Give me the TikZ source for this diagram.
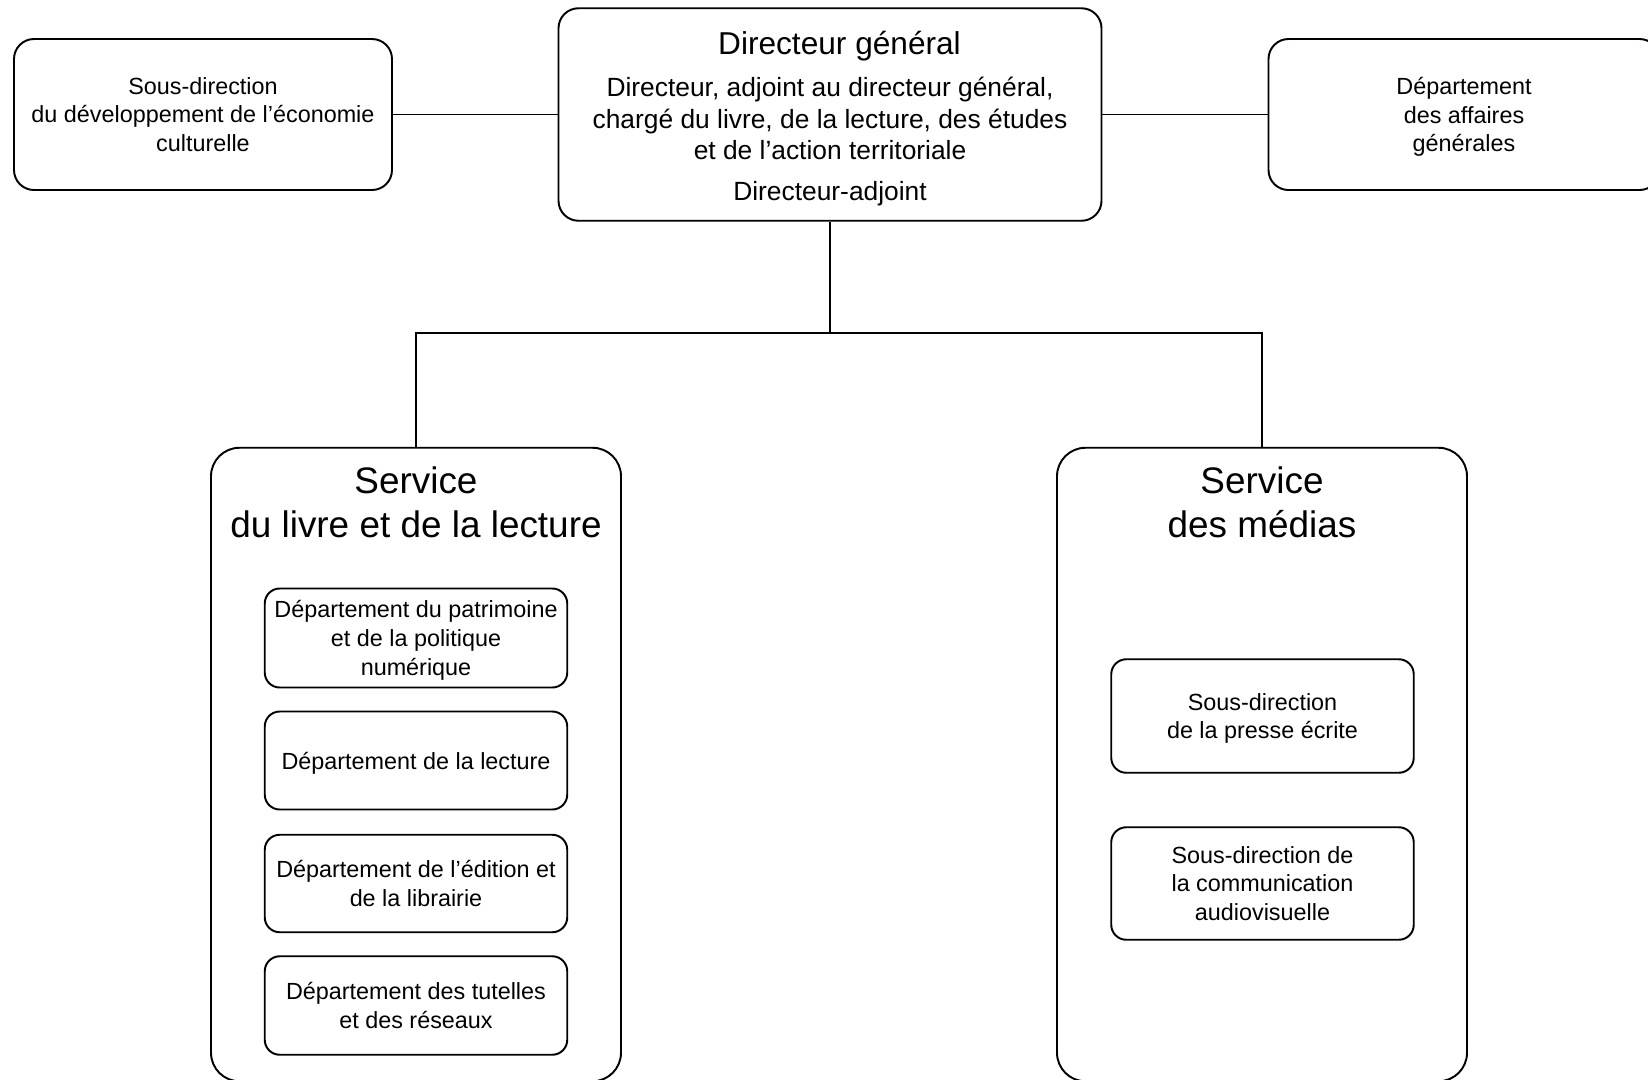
\documentclass[tikz,border=0pt]{standalone}
\usepackage{fontspec}
\setmainfont{Liberation Sans}

\newcommand{\boxfont}{\fontsize{13.3}{16.4}\selectfont}
\newcommand{\midfont}{\fontsize{15}{18.1}\selectfont}
\newcommand{\dgfont}{\fontsize{18}{21}\selectfont}
\newcommand{\servfont}{\fontsize{21}{25}\selectfont}

\tikzset{
	unit/.style={draw, line width=1.1pt, rounded corners=0.4cm, align=center, inner sep=0pt, text depth=0pt},
	service/.style={draw, line width=1.1pt, rounded corners=0.57cm, minimum width=8.2cm, minimum height=12.67cm},
	dept/.style={unit, rounded corners=0.3cm, minimum width=6.05cm, font=\boxfont},
	link/.style={line width=1.1pt},
}

\begin{document}
\begin{tikzpicture}
	\useasboundingbox (0,0) rectangle (32.96,-21.58);

	% top row
	\node[unit, minimum width=10.86cm, minimum height=4.25cm, font=\midfont, text depth=3.75pt] (dg) at (16.6,-2.29)
		{{\rule{0pt}{18.5pt}\hspace*{0.38cm}\dgfont Directeur général}\\[5.8pt]
		Directeur, adjoint au directeur général,\\
		chargé du livre, de la lecture, des études\\
		et de l’action territoriale\\[5pt]
		Directeur-adjoint};
	\node[unit, minimum width=7.56cm, minimum height=3.02cm, font=\boxfont] (sdeco) at (4.06,-2.29)
		{Sous-direction\\du développement de l’économie\\culturelle};
	\node[unit, minimum width=7.82cm, minimum height=3.02cm, font=\boxfont] (daf) at (29.28,-2.29)
		{Département\\des affaires\\générales};

	\draw[link] (sdeco) -- (dg);
	\draw[link] (dg) -- (daf);

	% services
	\node[service] (livre) at (8.32,-15.29) {};
	\node[service] (medias) at (25.24,-15.29) {};
	\node[align=center, font=\servfont, anchor=north] (livret) at (8.32,-9.21) {Service\\du livre et de la lecture};
	\node[align=center, font=\servfont, anchor=north] (mediast) at (25.24,-9.21) {Service\\des médias};

	\coordinate (bus) at (16.6,-6.66);
	\draw[link] (dg.south) -- (bus);
	\draw[link] (livre.north) |- (bus) -| (medias.north);

	% departements du livre
	\node[dept, minimum height=1.98cm] (patri) at (8.32,-12.76) {Département du patrimoine\\et de la politique\\numérique};
	\node[dept, minimum height=1.96cm] (lect) at (8.32,-15.21) {Département de la lecture};
	\node[dept, minimum height=1.95cm] (edit) at (8.32,-17.67) {Département de l’édition et\\de la librairie};
	\node[dept, minimum height=1.97cm] (tut) at (8.32,-20.11) {Département des tutelles\\et des réseaux};

	% sous-directions des medias
	\node[dept, minimum height=2.27cm] (presse) at (25.25,-14.32) {Sous-direction\\de la presse écrite};
	\node[dept, minimum height=2.25cm] (audio) at (25.25,-17.67) {Sous-direction de\\la communication\\audiovisuelle};
\end{tikzpicture}
\end{document}
